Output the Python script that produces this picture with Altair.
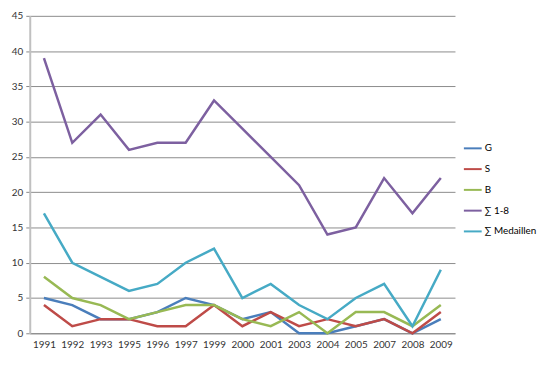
import altair as alt
import pandas as pd

years = ["1991", "1992", "1993", "1995", "1996", "1997", "1999", "2000",
         "2001", "2003", "2004", "2005", "2007", "2008", "2009"]
g = [5, 4, 2, 2, 3, 5, 4, 2, 3, 0, 0, 1, 2, 0, 2]
s = [4, 1, 2, 2, 1, 1, 4, 1, 3, 1, 2, 1, 2, 0, 3]
b = [8, 5, 4, 2, 3, 4, 4, 2, 1, 3, 0, 3, 3, 1, 4]
sum18 = [39, 27, 31, 26, 27, 27, 33, 29, 25, 21, 14, 15, 22, 17, 22]
medals = [17, 10, 8, 6, 7, 10, 12, 5, 7, 4, 2, 5, 7, 1, 9]

series = ["G", "S", "B", "∑ 1-8", "∑ Medaillen"]
colors = ["#4A7EBB", "#BE4B48", "#98B954", "#7D60A0", "#46AAC5"]

rows = []
for name, vals in zip(series, [g, s, b, sum18, medals]):
    for y, v in zip(years, vals):
        rows.append({"Jahr": y, "Wert": v, "Serie": name})
df = pd.DataFrame(rows)

font = "Lato"

chart = alt.Chart(df).mark_line(strokeWidth=2.5).encode(
    x=alt.X("Jahr:O", sort=years, title=None,
            axis=alt.Axis(labelAngle=0, ticks=False, labelPadding=6,
                          domainColor="#888888", domainWidth=1, grid=False)),
    y=alt.Y("Wert:Q", title=None,
            scale=alt.Scale(domain=[0, 45], nice=False),
            axis=alt.Axis(values=list(range(0, 50, 5)), tickCount=10,
                          gridColor="#8c8c8c", gridWidth=1,
                          domainColor="#c0c0c0", domainWidth=2,
                          tickColor="#888888", tickSize=4, labelPadding=3)),
    color=alt.Color("Serie:N", sort=series,
                    scale=alt.Scale(domain=series, range=colors),
                    legend=alt.Legend(title=None, orient="none", legendX=438, legendY=124,
                                      symbolType="stroke", symbolSize=324, symbolStrokeWidth=2,
                                      rowPadding=6, labelFontSize=10, labelOffset=2)),
    detail="Serie:N",
).properties(
    width=430, height=321,
    autosize=alt.AutoSizeParams(type="none"),
    padding={"left": 22, "top": 6, "right": 88, "bottom": 16},
).configure(font=font).configure_axis(
    labelFontSize=10, labelColor="#333333"
).configure_view(stroke=None).configure_scale(pointPadding=0.5)

chart.save("out.html", embed_options={"renderer": "svg", "actions": False})
